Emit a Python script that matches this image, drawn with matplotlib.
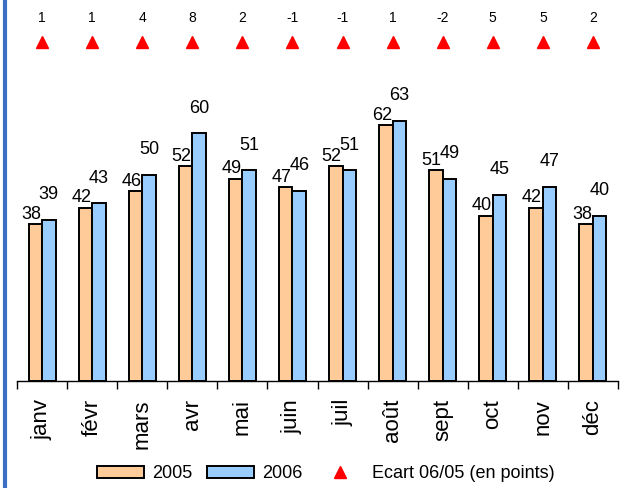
import numpy as np
import matplotlib
matplotlib.use('Agg')
import matplotlib.pyplot as plt
from matplotlib.lines import Line2D
from matplotlib.patches import Patch

plt.rcParams['font.family'] = ['Liberation Sans', 'DejaVu Sans']

# données
mois = ['janv', 'févr', 'mars', 'avr', 'mai', 'juin',
        'juil', 'août', 'sept', 'oct', 'nov', 'déc']
v2005 = [38, 42, 46, 52, 49, 47, 52, 62, 51, 40, 42, 38]
v2006 = [39, 43, 50, 60, 51, 46, 51, 63, 49, 45, 47, 40]
ecart = [1, 1, 4, 8, 2, -1, -1, 1, -2, 5, 5, 2]

niveau_triangle = 82
niveau_ecart = 88

c2005 = '#FFCC99'
c2006 = '#99CCFF'

fig = plt.figure(figsize=(6.24, 4.88), dpi=100)
ax = fig.add_axes([17/624, 1 - 381/488, 601/624, 381/488])

x = np.arange(len(mois))
w = 0.27
ax.bar(x - w/2, v2005, w, color=c2005, edgecolor='black', linewidth=1.4)
ax.bar(x + w/2, v2006, w, color=c2006, edgecolor='black', linewidth=1.4)

for i in range(len(mois)):
    ax.annotate(str(v2005[i]), (x[i] - w/2, v2005[i]), xytext=(-3, 1),
                textcoords='offset points', ha='center', va='bottom', fontsize=13)
    ax.annotate(str(v2006[i]), (x[i] + w/2, v2006[i]), xytext=(0, 12),
                textcoords='offset points', ha='center', va='bottom', fontsize=13)

# écarts 06/05
ax.plot(x, [niveau_triangle] * len(x), linestyle='none', marker='^',
        color='#FF0000', markersize=9)
for i in range(len(mois)):
    ax.text(x[i], niveau_ecart, str(ecart[i]), ha='center', va='center', fontsize=10)

ax.set_xlim(-0.5, len(mois) - 0.5)
ax.set_ylim(0, 381 / 4.13)
for s in ['left', 'right', 'top']:
    ax.spines[s].set_visible(False)
ax.spines['bottom'].set_linewidth(1)
ax.set_yticks([])
ax.set_xticks(np.arange(-0.5, len(mois), 1))
ax.set_xticklabels([])
ax.set_xticks(x, minor=True)
ax.set_xticklabels(mois, minor=True, rotation=90, fontsize=16)
ax.tick_params(axis='x', which='major', direction='out', length=6, width=1)
ax.tick_params(axis='x', which='minor', length=0, pad=13)

# légende
handles = [Patch(facecolor=c2005, edgecolor='black', linewidth=1.4),
           Patch(facecolor=c2006, edgecolor='black', linewidth=1.4),
           Line2D([], [], linestyle='none', marker='^', color='#FF0000', markersize=9)]
fig.legend(handles, ['2005', '2006', 'Ecart 06/05 (en points)'],
           loc='center', bbox_to_anchor=(326/624, 1 - 474/488), ncol=3,
           frameon=False, fontsize=13, handlelength=2.6, handleheight=0.67,
           columnspacing=0.8, handletextpad=0.45)

# bordure gauche
fig.add_artist(Line2D([5/624, 5/624], [0, 1], color='#3A6FC4', linewidth=3,
                      transform=fig.transFigure))

fig.savefig('out.png', dpi=100)
